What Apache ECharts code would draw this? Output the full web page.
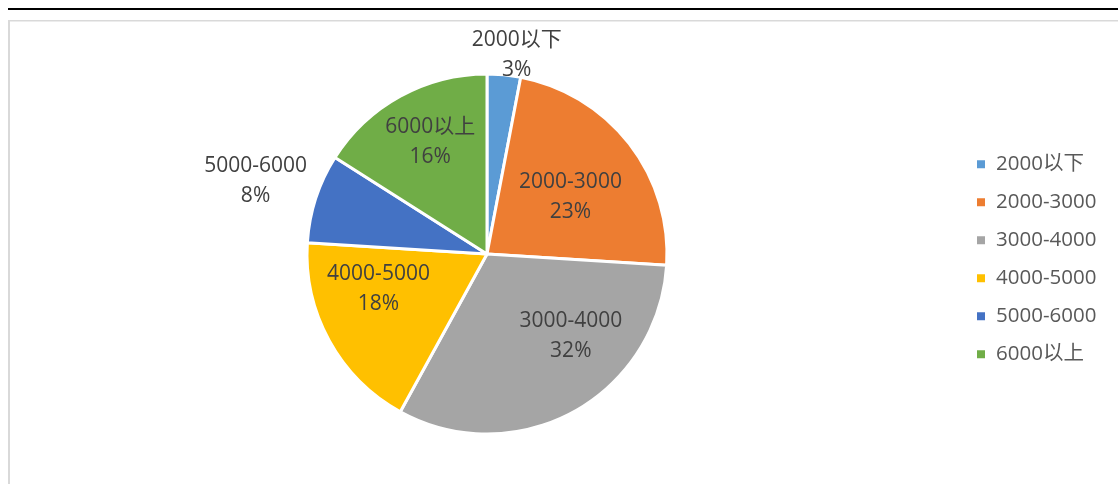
<!DOCTYPE html>
<html>
<head>
<meta charset="utf-8">
<script src="https://cdn.jsdelivr.net/npm/echarts@6/dist/echarts.min.js"></script>
<style>
html, body { margin: 0; padding: 0; background: #fff; }
#pie-chart { width: 1118px; height: 484px; }
</style>
</head>
<body>
<div id="pie-chart"></div>
<script>
var categories = ["2000以下", "2000-3000", "3000-4000", "4000-5000", "5000-6000", "6000以上"];
var shares = [3, 23, 32, 18, 8, 16];
var sliceColors = ["#5b9bd5", "#ed7d31", "#a5a5a5", "#ffc000", "#4472c4", "#70ad47"];
// nudges from ECharts' inside label spot to where the labels sit in the picture
var labelShift = [[21, -106], [10, 0], [39, 1], [-27, -10], [-143, -44], [-12, -30]];

var dom = document.getElementById("pie-chart");
var myChart = echarts.init(dom);
var fontStack = "'Open Sans', 'Noto Sans CJK SC', sans-serif";

var option = {
    animation: false,
    graphic: [{
        type: "rect",
        shape: { x: 8, y: 8, width: 1110, height: 2 },
        style: { fill: "#000" }
    }, {
        type: "rect",
        shape: { x: 8, y: 20, width: 1110, height: 1.5 },
        style: { fill: "#d9d9d9" }
    }, {
        type: "rect",
        shape: { x: 8, y: 20, width: 2, height: 464 },
        style: { fill: "#d9d9d9" }
    }],
    legend: {
        orient: "vertical",
        left: 970,
        top: 149,
        icon: "rect",
        itemWidth: 10,
        itemHeight: 10,
        itemGap: 17.5,
        data: categories,
        textStyle: {
            color: "#595959",
            fontSize: 20.5,
            lineHeight: 20,
            fontFamily: fontStack,
            padding: [0, 0, 0, 5]
        }
    },
    color: sliceColors,
    series: [{
        name: "分布",
        type: "pie",
        center: [487, 254],
        radius: 180,
        startAngle: 90,
        clockwise: true,
        avoidLabelOverlap: false,
        itemStyle: { borderColor: "#fff", borderWidth: 3 },
        label: {
            show: true,
            position: "inside",
            formatter: "{b}\n{c}%",
            color: "#404040",
            fontSize: 21,
            lineHeight: 30,
            fontFamily: fontStack
        },
        labelLine: { show: false },
        labelLayout: function (params) {
            var s = labelShift[params.dataIndex];
            return { dx: s[0], dy: s[1] };
        },
        data: categories.map(function (name, i) {
            return { name: name, value: shares[i] };
        })
    }]
};

option && "object" == typeof option && myChart.setOption(option, true);
</script>
</body>
</html>
